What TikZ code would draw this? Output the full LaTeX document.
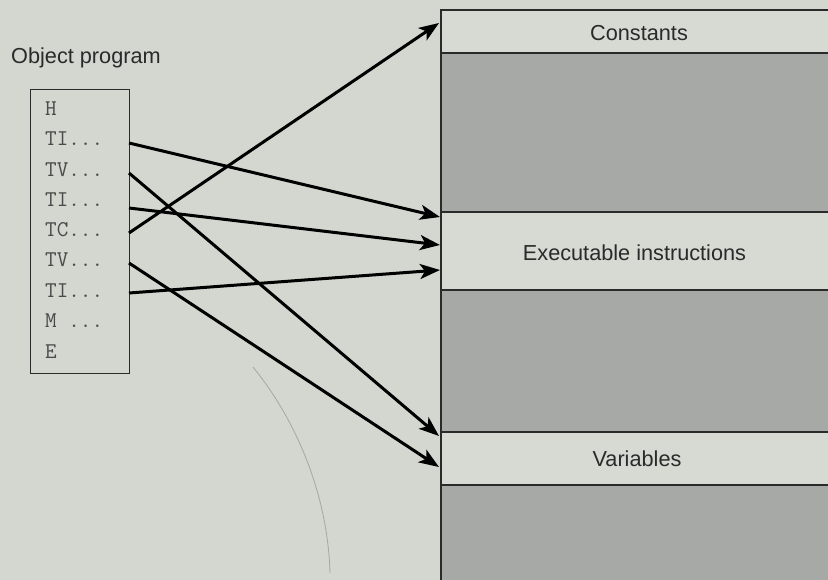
\documentclass[tikz,border=0pt]{standalone}
\usepackage{fontspec}
\setmainfont{Liberation Sans}
\usetikzlibrary{arrows.meta}
\definecolor{bg}{HTML}{D4D6D0}
\definecolor{bandfill}{HTML}{D7D9D3}
\definecolor{darkfill}{HTML}{A6A9A5}
\definecolor{ink}{HTML}{2A2A2A}
\begin{document}
\begin{tikzpicture}[x=1bp,y=-1bp,
  lbl/.style={text=ink,font=\fontsize{21.7bp}{26bp}\selectfont,inner sep=0pt},
  row/.style={text=ink!85,font=\ttfamily\fontsize{22.5bp}{26bp}\selectfont,anchor=west,inner sep=0pt},
  frame/.style={draw=ink,line width=1.3bp},
  link/.style={draw=black,line width=3bp,-{Stealth[length=20bp,width=15bp,inset=5bp]}}]
\useasboundingbox[fill=bg] (0,0) rectangle (828,580);
% faint pencil mark
\draw[gray!70,line width=0.8bp] (253,367) .. controls (300,425) and (328,500) .. (330,573);
% memory block
\fill[bandfill] (441,10) rectangle (840,600);
\fill[darkfill] (441,53) rectangle (840,212);
\fill[darkfill] (441,290) rectangle (840,432);
\fill[darkfill] (441,485) rectangle (840,600);
\draw[frame] (840,10) -- (441,10) -- (441,600);
\foreach \yy in {53,212,290,432,485} \draw[frame] (441,\yy) -- (840,\yy);
\node[lbl] (const) at (639,33) {Constants};
\node[lbl] (exec) at (634.5,253) {Executable instructions};
\node[lbl] (vars) at (637,459) {Variables};
% object program
\node[lbl,anchor=west] (title) at (11,58) {Object program};
\node[frame,fill=none,minimum width=99bp,minimum height=284bp,anchor=north west,inner sep=0pt] (prog) at (30,89) {};
\node[row] (r1) at (45,108.5) {H};
\node[row] (r2) at (45,138.5) {TI...};
\node[row] (r3) at (45,169.5) {TV...};
\node[row] (r4) at (45,200) {TI...};
\node[row] (r5) at (45,230) {TC...};
\node[row] (r6) at (45,260) {TV...};
\node[row] (r7) at (45,291) {TI...};
\node[row] (r8) at (45,321) {M ...};
\node[row] (r9) at (45,351.5) {E};
% start points on the box edge
\coordinate (s2) at (129,143);
\coordinate (s3) at (129,173);
\coordinate (s4) at (129,208);
\coordinate (s5) at (129,233);
\coordinate (s6) at (129,263);
\coordinate (s7) at (129,293);
% target points at the block edge
\coordinate (tc) at (439,23);
\coordinate (te1) at (440,217);
\coordinate (te2) at (440,245);
\coordinate (te3) at (440,270);
\coordinate (tv1) at (439,436);
\coordinate (tv2) at (439,467);
\draw[link] (s2) -- (te1);
\draw[link] (s3) -- (tv1);
\draw[link] (s4) -- (te2);
\draw[link] (s5) -- (tc);
\draw[link] (s6) -- (tv2);
\draw[link] (s7) -- (te3);
\end{tikzpicture}
\end{document}
